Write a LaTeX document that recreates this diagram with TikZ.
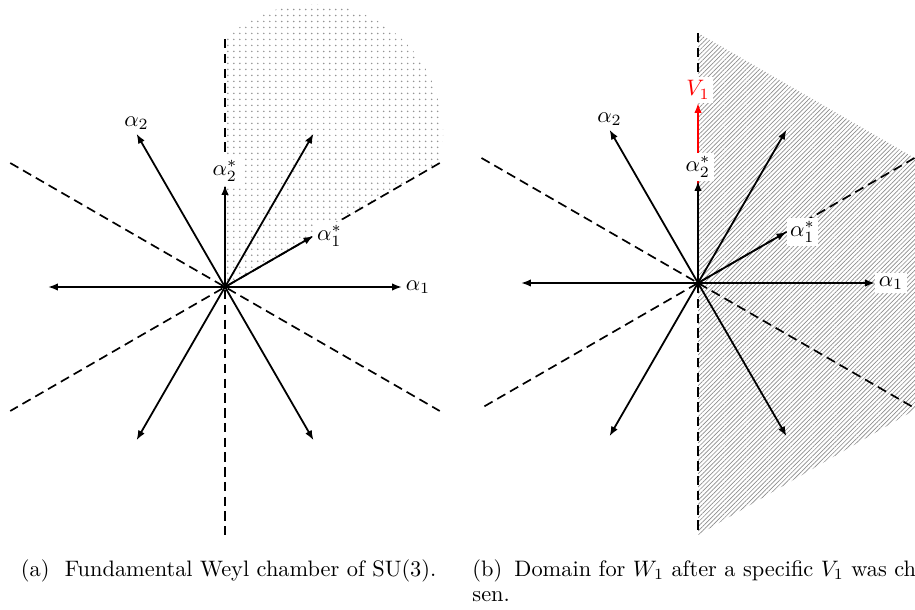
\documentclass[tikz,border=0pt]{standalone}
\usetikzlibrary{arrows.meta,patterns.meta,calc}
\begin{document}
\begin{tikzpicture}[x=0.447pt,y=0.447pt,
  vec/.style={line width=0.8pt,-{Latex[length=4.4pt,width=3.3pt]}},
  dline/.style={line width=0.75pt,dash pattern=on 4.2pt off 2.4pt},
  lbl/.style={inner sep=1.5pt},
  wlbl/.style={fill=white,inner sep=1.5pt},
  captext/.style={anchor=base west,inner sep=0pt}]
\clip (0,0) rectangle (915,609);
% ---------------- panel (a) ----------------
\begin{scope}[shift={(225,322)}]
  \coordinate (aO) at (0,0);
  \fill[pattern={Dots[distance=2.68pt,radius=0.38pt]},pattern color=black!42]
    (0,0) -- (0,248) arc[start angle=133.06,end angle=-13.06,radius=129.6] -- cycle;
  \foreach \a in {30,90,150,210,270,330}{\coordinate (aD\a) at (\a:248);}
  \draw[dline] (aD90) -- (aD270);
  \draw[dline] (aD30) -- (aD210);
  \draw[dline] (aD150) -- (aD330);
  \foreach \a in {0,60,120,180,240,300}{\coordinate (aR\a) at (\a:177);}
  \coordinate (aS1) at (30:102);
  \coordinate (aS2) at (90:102);
  \foreach \a in {0,60,120,180,240,300}{\draw[vec] (aO) -- (aR\a);}
  \draw[vec] (aO) -- (aS1);
  \draw[vec] (aO) -- (aS2);
  \node[lbl,anchor=west] (aL1) at (aR0) {$\alpha_1$};
  \node[lbl,anchor=south] (aL2) at (aR120) {$\alpha_2$};
  \node[wlbl,anchor=south] (aLS2) at (aS2) {$\alpha_2^*$};
  \node[wlbl,anchor=west] (aLS1) at (aS1) {$\alpha_1^*$};
\end{scope}
% ---------------- panel (b) ----------------
\begin{scope}[shift={(698,326)}]
  \coordinate (bO) at (0,0);
  \fill[pattern={Lines[angle=45,distance=1.39pt,line width=0.3pt]},pattern color=black!45]
    (0,-252) -- ++(30:320) -- ($(0,250)+(-30:320)$) -- (0,250) -- cycle;
  \foreach \a in {30,90,150,210,270,330}{\coordinate (bD\a) at (\a:250);}
  \draw[dline] (bD90) -- (bD270);
  \draw[dline] (bD30) -- (bD210);
  \draw[dline] (bD150) -- (bD330);
  \foreach \a in {0,60,120,180,240,300}{\coordinate (bR\a) at (\a:177);}
  \coordinate (bS1) at (30:102);
  \coordinate (bS2) at (90:102);
  \coordinate (bV) at (90:180);
  \draw[vec,red] (bO) -- (bV);
  \foreach \a in {0,60,120,180,240,300}{\draw[vec] (bO) -- (bR\a);}
  \draw[vec] (bO) -- (bS1);
  \draw[vec] (bO) -- (bS2);
  \node[wlbl,anchor=west] (bL1) at (bR0) {$\alpha_1$};
  \node[lbl,anchor=south] (bL2) at (bR120) {$\alpha_2$};
  \node[wlbl,anchor=south] (bLS2) at (bS2) {$\alpha_2^*$};
  \node[wlbl,anchor=west] (bLS1) at (bS1) {$\alpha_1^*$};
  \node[wlbl,anchor=south,text=red] (bLV) at (bV) {$V_1$};
\end{scope}
% ---------------- captions ----------------
\node[captext] (capa) at (20.5,33) {(a)};
\node[captext] (capat) at (64.5,33) {Fundamental Weyl chamber of SU(3).};
\node[captext] (capb) at (472,33) {(b)};
\node[captext] (capbt) at (514,33) {Domain for $W_1$ after a specific $V_1$ was cho-};
\node[captext] (capbs) at (472,8) {sen.};
\end{tikzpicture}
\end{document}
